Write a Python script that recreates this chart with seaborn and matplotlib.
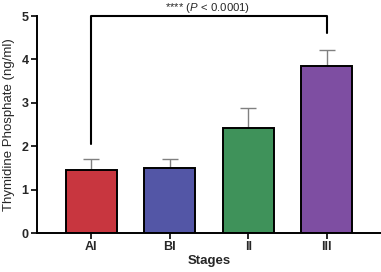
import numpy as np
import pandas as pd
import seaborn as sns
import matplotlib.pyplot as plt

stages = ['AI', 'BI', 'II', 'III']
means = [1.45, 1.50, 2.42, 3.85]
sems = [0.25, 0.20, 0.47, 0.36]
colors = ['#C8363F', '#5356A6', '#3F925A', '#7E4EA2']

df = pd.DataFrame({'stage': stages, 'value': means})

sns.set_style('ticks')
plt.rcParams['font.family'] = ['Liberation Sans', 'DejaVu Sans']
plt.rcParams['mathtext.fontset'] = 'custom'
plt.rcParams['mathtext.it'] = 'Liberation Sans:italic'

fig = plt.figure(figsize=(3.81, 2.72), dpi=100)
ax = fig.add_axes([0.097, 0.143, 0.903, 0.798])

sns.barplot(data=df, x='stage', y='value', hue='stage', palette=colors,
            saturation=1, width=0.65, edgecolor='black', linewidth=1.4,
            legend=False, ax=ax)

# only the upper half of the error bars
ax.errorbar(np.arange(len(stages)), means, yerr=[np.zeros(len(sems)), sems],
            fmt='none', ecolor='#808080', elinewidth=1.0, capsize=6, capthick=1.0,
            zorder=0)

ax.set_xlim(-0.69, 3.69)
ax.set_ylim(0, 5)
ax.set_yticks([0, 1, 2, 3, 4, 5])
ax.set_xlabel('Stages', fontsize=9.5, fontweight='bold', labelpad=1)
ax.set_ylabel('Thymidine Phosphate (ng/ml)', fontsize=9.5, labelpad=5)
for lab in ax.get_xticklabels() + ax.get_yticklabels():
    lab.set_fontweight('bold')
ax.tick_params(axis='both', labelsize=9, width=1.4, length=4, pad=2)
for s in ['left', 'bottom']:
    ax.spines[s].set_linewidth(1.4)
    ax.spines[s].set_color('black')
sns.despine(ax=ax)

# significance bracket AI vs III
ax.plot([0, 0, 3, 3], [2.05, 5.0, 5.0, 4.6], color='black', lw=1.5, clip_on=False)
ax.text(1.48, 5.18, '**** ($\\it{P}$ < 0.0001)', fontsize=8.2, ha='center', va='center')

fig.savefig('out.png', dpi=100)
